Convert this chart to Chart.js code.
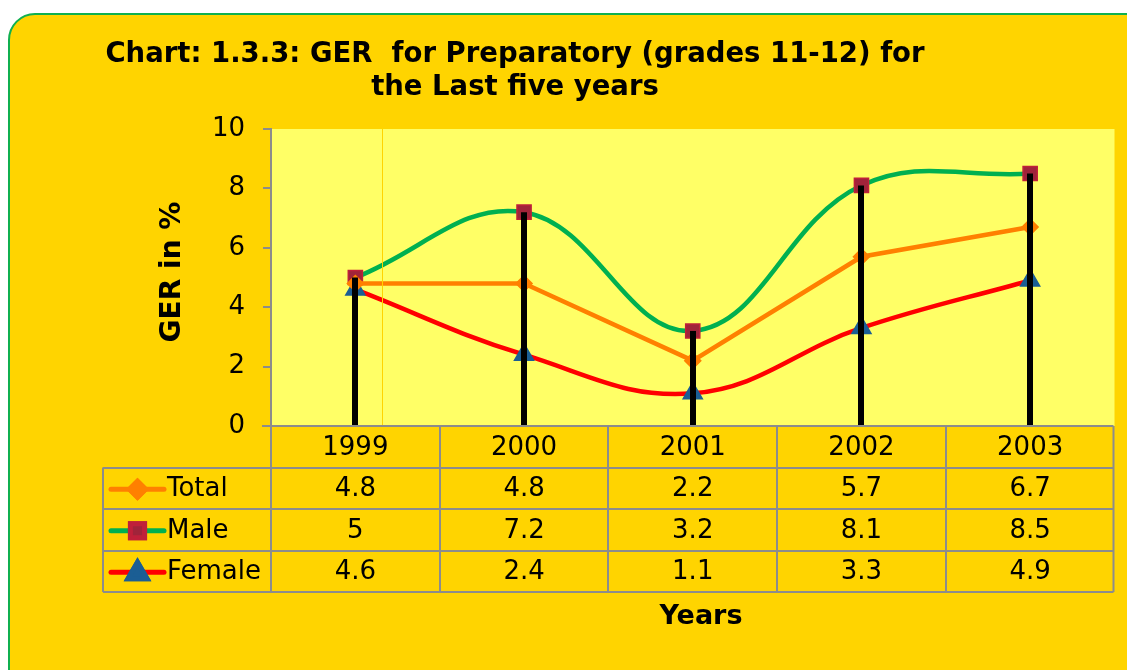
<!DOCTYPE html>
<html>
<head>
<meta charset="utf-8">
<script src="https://cdn.jsdelivr.net/npm/chart.js@4.4.0/dist/chart.umd.min.js"></script>
<style>
  html, body { margin: 0; padding: 0; background: #fff; overflow: hidden; }
  #wrap { width: 1127px; height: 670px; }
</style>
</head>
<body>
<div id="wrap"><canvas id="chartGER" width="1127" height="670"></canvas></div>
<script>
// --- Datos ---
const years = ['1999', '2000', '2001', '2002', '2003'];
const total = [4.8, 4.8, 2.2, 5.7, 6.7];
const male = [5, 7.2, 3.2, 8.1, 8.5];
const female = [4.6, 2.4, 1.1, 3.3, 4.9];
const yTicks = [0, 2, 4, 6, 8, 10];
const seriesNames = ['Total', 'Male', 'Female'];

const titleLines = ['Chart: 1.3.3: GER  for Preparatory (grades 11-12) for', 'the Last five years'];
const yTitle = 'GER in %';
const xTitle = 'Years';

// --- Colores ---
const GOLD = '#FFD400';
const PLOT = '#FFFF66';
const GRID = '#8C8C8C';
const FONT = '"DejaVu Sans", Verdana, sans-serif';

const series = [
  { data: total, line: '#FF8000', fill: '#FF8000', stroke: '#FF8000', style: 'rectRot', r: 8, tension: 0 },
  { data: male, line: '#00B050', fill: '#A0243A', stroke: '#C0203A', style: 'rect', r: 10, tension: 0.4 },
  { data: female, line: '#FF0000', fill: '#1B5E94', stroke: '#1B5E94', style: 'triangle', r: 11, tension: 0.4 },
];

const el = (id) => document.getElementById(id);

// fondo dorado con borde redondeado + área de trazado
const backdrop = {
  id: 'backdrop',
  beforeDraw(chart) {
    const { ctx, chartArea: a } = chart;
    ctx.save();
    ctx.fillStyle = '#fff';
    ctx.fillRect(0, 0, chart.width, chart.height);
    ctx.beginPath();
    ctx.roundRect(9, 14, 1170, 720, 26);
    ctx.fillStyle = GOLD;
    ctx.fill();
    ctx.lineWidth = 2;
    ctx.strokeStyle = '#10B050';
    ctx.stroke();
    ctx.fillStyle = PLOT;
    ctx.fillRect(a.left, a.top, a.right - a.left, a.bottom - a.top);
    ctx.restore();
  }
};

// líneas de caída (negras) desde el punto más alto hasta el eje
const dropLines = {
  id: 'dropLines',
  afterDatasetsDraw(chart) {
    const { ctx, scales: { x, y } } = chart;
    ctx.save();
    ctx.strokeStyle = '#000';
    ctx.lineWidth = 6;
    years.forEach((_, i) => {
      const top = Math.max(total[i], male[i], female[i]);
      const px = Math.round(x.getPixelForValue(i));
      ctx.beginPath();
      ctx.moveTo(px, y.getPixelForValue(top));
      ctx.lineTo(px, y.getPixelForValue(0));
      ctx.stroke();
    });
    // línea fina de la imagen original
    ctx.strokeStyle = '#FFD400';
    ctx.lineWidth = 1;
    ctx.beginPath();
    ctx.moveTo(382.5, chart.chartArea.top);
    ctx.lineTo(382.5, chart.chartArea.bottom);
    ctx.stroke();
    ctx.restore();
  }
};

function drawMarker(ctx, s, cx, cy) {
  Chart.helpers.drawPoint(ctx, {
    pointStyle: s.style, radius: s.r, rotation: 0, borderWidth: 1.5
  }, cx, cy);
  ctx.fill();
  ctx.stroke();
}

// tabla de datos, títulos
const dataTable = {
  id: 'dataTable',
  afterDraw(chart) {
    const { ctx, chartArea: a } = chart;
    const colW = (a.right - a.left) / years.length;
    const rowH = 41.5;
    const top = a.bottom;
    const tableLeft = 103;
    const tableRight = a.right - 1;
    const bottom = top + rowH * 4;
    ctx.save();

    // eje x
    ctx.strokeStyle = GRID;
    ctx.lineWidth = 2;
    ctx.beginPath();
    ctx.moveTo(a.left - 9, top);
    ctx.lineTo(tableRight, top);
    ctx.stroke();

    // líneas horizontales
    for (let r = 1; r <= 4; r++) {
      const yy = Math.round(top + r * rowH);
      ctx.beginPath();
      ctx.moveTo(tableLeft, yy);
      ctx.lineTo(tableRight, yy);
      ctx.stroke();
    }
    // líneas verticales
    ctx.beginPath();
    ctx.moveTo(tableLeft, top + rowH);
    ctx.lineTo(tableLeft, bottom);
    ctx.stroke();
    for (let c = 0; c <= years.length; c++) {
      const xx = c === years.length ? tableRight : Math.round(a.left + c * colW);
      ctx.beginPath();
      ctx.moveTo(xx, top);
      ctx.lineTo(xx, bottom);
      ctx.stroke();
    }

    // textos
    ctx.fillStyle = '#000';
    ctx.font = `26px ${FONT}`;
    ctx.textAlign = 'center';
    ctx.textBaseline = 'middle';
    years.forEach((yr, c) => {
      ctx.fillText(yr, a.left + (c + 0.5) * colW, top + rowH / 2 + 1);
    });
    series.forEach((s, r) => {
      const cy = top + rowH * (r + 1.5) + 1;
      s.data.forEach((v, c) => {
        ctx.fillText(String(v), a.left + (c + 0.5) * colW, cy);
      });
      // clave de leyenda
      ctx.save();
      ctx.strokeStyle = s.line;
      ctx.lineWidth = 5;
      ctx.lineCap = 'round';
      ctx.beginPath();
      ctx.moveTo(111, cy);
      ctx.lineTo(164, cy);
      ctx.stroke();
      ctx.fillStyle = s.fill;
      ctx.strokeStyle = s.stroke;
      drawMarker(ctx, s, 137.5, cy + (s.style === 'triangle' ? 1 : 0));
      ctx.restore();
      ctx.textAlign = 'left';
      ctx.fillText(seriesNames[r], 167, cy);
      ctx.textAlign = 'center';
    });

    // títulos
    ctx.font = `bold 27.5px ${FONT}`;
    ctx.fillText(titleLines[0], 515, 55);
    ctx.fillText(titleLines[1], 515, 88);
    ctx.font = `bold 27px ${FONT}`;
    ctx.fillText(xTitle, 701, 617);
    ctx.save();
    ctx.translate(173, 272);
    ctx.rotate(-Math.PI / 2);
    ctx.font = `bold 28px ${FONT}`;
    ctx.fillText(yTitle, 0, 0);
    ctx.restore();
    ctx.restore();
  }
};

const chartGER = new Chart(el('chartGER').getContext('2d'), {
  type: 'line',
  data: {
    labels: years,
    datasets: series.map((s, i) => ({
      label: seriesNames[i],
      data: s.data,
      borderColor: s.line,
      borderWidth: 4.5,
      tension: s.tension,
      pointStyle: s.style,
      pointRadius: s.r,
      pointHoverRadius: s.r,
      pointBackgroundColor: s.fill,
      pointBorderColor: s.stroke,
      pointBorderWidth: 1.5,
      order: i,
    })),
  },
  options: {
    responsive: false,
    animation: false,
    devicePixelRatio: 1,
    layout: { padding: { left: 180, right: 8, top: 129, bottom: 244 } },
    plugins: { legend: { display: false }, tooltip: { enabled: false }, title: { display: false } },
    scales: {
      x: { display: false, offset: true },
      y: {
        min: 0,
        max: 10,
        afterBuildTicks: (scale) => { scale.ticks = yTicks.map((v) => ({ value: v })); },
        afterFit: (scale) => { scale.width = 91; },
        grid: { drawOnChartArea: false, drawTicks: true, tickLength: 8, color: GRID, lineWidth: 2 },
        border: { color: GRID, width: 2 },
        ticks: { color: '#000', font: { family: FONT, size: 26 }, padding: 18 },
      },
    },
  },
  plugins: [backdrop, dropLines, dataTable],
});
</script>
</body>
</html>
